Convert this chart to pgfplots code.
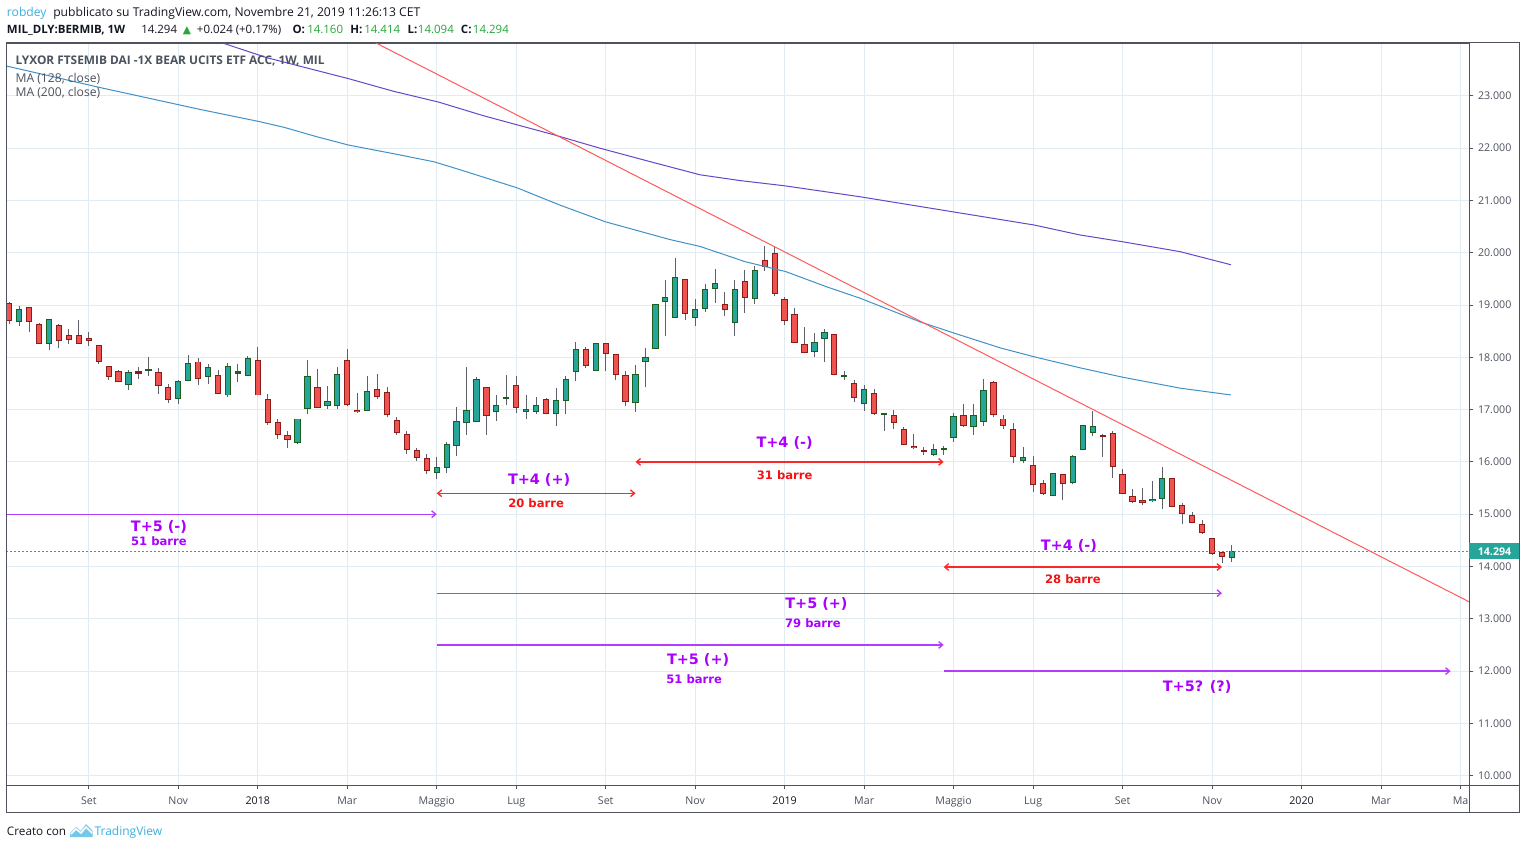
\documentclass[border=0pt]{standalone}
\usepackage{pgfplots}
\pgfplotsset{compat=1.18}
\usepackage{pgfplotstable}
\usepackage{fontspec}
\setmainfont{Open Sans}
\newfontfamily\dejavu{DejaVu Sans}
\usetikzlibrary{arrows.meta}

\definecolor{tvred}{RGB}{239,83,80}
\definecolor{tvredb}{RGB}{142,27,23}
\definecolor{tvgreen}{RGB}{38,166,154}
\definecolor{tvgreenb}{RGB}{27,94,32}
\definecolor{wick}{RGB}{93,96,107}
\definecolor{ma128}{RGB}{64,145,200}
\definecolor{ma200}{RGB}{103,70,200}
\definecolor{trend}{RGB}{255,90,90}
\definecolor{annpurple}{RGB}{170,0,255}
\definecolor{arrpurple}{RGB}{180,60,255}
\definecolor{annred}{RGB}{242,20,20}
\definecolor{arrred}{RGB}{250,40,40}
\definecolor{gridc}{RGB}{225,236,242}
\definecolor{framec}{RGB}{80,83,94}
\definecolor{labc}{RGB}{76,82,94}
\definecolor{hdrgreen}{RGB}{40,165,60}
\definecolor{tvblue}{RGB}{59,176,226}
\definecolor{txt}{RGB}{19,23,34}

\pgfplotstableread{
x o h l c
0 19.03 19.05 18.64 18.70
2 18.96 18.96 18.49 18.68
3 18.63 18.65 18.25 18.25
5 18.61 18.64 18.18 18.32
6 18.42 18.54 18.26 18.34
7 18.42 18.71 18.25 18.25
8 18.36 18.48 18.22 18.32
9 18.23 18.23 17.88 17.92
10 17.83 17.84 17.57 17.63
11 17.73 17.75 17.52 17.52
13 17.72 17.81 17.59 17.69
15 17.71 17.79 17.30 17.46
16 17.44 17.49 17.13 17.19
19 17.92 17.98 17.47 17.58
21 17.67 17.76 17.29 17.29
25 17.94 18.20 17.27 17.27
26 17.21 17.30 16.71 16.75
27 16.77 16.82 16.44 16.51
28 16.51 16.60 16.27 16.41
31 17.43 17.78 17.04 17.04
34 17.94 18.16 17.06 17.08
35 17.00 17.32 16.93 16.95
37 17.39 17.68 17.20 17.25
38 17.33 17.44 16.85 16.89
39 16.81 16.85 16.52 16.56
40 16.54 16.60 16.15 16.22
41 16.22 16.26 16.01 16.08
42 16.07 16.16 15.76 15.83
48 17.44 17.44 16.52 16.87
51 17.48 17.64 16.94 17.04
54 17.21 17.23 16.91 16.91
58 18.15 18.19 17.79 17.84
60 18.27 18.27 17.73 18.07
61 18.07 18.07 17.56 17.67
62 17.67 17.73 17.06 17.14
68 19.50 19.50 18.72 18.83
72 19.02 19.25 18.79 18.91
74 19.46 19.67 18.85 19.14
76 19.87 20.13 19.66 19.73
77 20.00 20.11 19.18 19.21
78 19.12 19.16 18.62 18.70
79 18.83 18.95 18.28 18.28
80 18.26 18.58 18.08 18.08
83 18.45 18.45 17.66 17.66
85 17.51 17.57 17.14 17.22
87 17.32 17.40 16.89 16.92
89 16.90 17.00 16.63 16.75
90 16.62 16.66 16.33 16.33
91 16.31 16.54 16.24 16.27
92 16.20 16.29 16.14 16.18
96 16.89 17.11 16.66 16.69
99 17.52 17.55 16.85 16.90
100 16.83 16.90 16.62 16.68
101 16.62 16.75 15.98 16.10
103 15.95 16.12 15.43 15.55
104 15.59 15.66 15.36 15.39
106 15.76 15.76 15.27 15.57
110 16.49 16.54 16.10 16.47
111 16.56 16.60 15.70 15.90
112 15.76 15.86 15.38 15.38
113 15.34 15.48 15.21 15.23
114 15.27 15.50 15.17 15.21
117 15.69 15.70 15.13 15.13
118 15.17 15.21 14.81 15.00
119 14.98 15.04 14.83 14.83
120 14.81 14.89 14.62 14.64
121 14.54 14.54 14.22 14.24
122 14.28 14.28 14.07 14.18
}\redtab

\pgfplotstableread{
x o h l c
1 18.67 18.98 18.60 18.92
4 18.25 18.74 18.14 18.73
12 17.48 17.75 17.38 17.71
14 17.73 18.00 17.65 17.75
17 17.21 17.56 17.11 17.54
18 17.54 18.04 17.54 17.90
20 17.63 17.87 17.49 17.81
22 17.27 17.90 17.25 17.83
23 17.69 17.87 17.53 17.71
24 17.64 18.03 17.64 17.98
29 16.37 16.83 16.35 16.83
30 17.02 17.95 16.91 17.64
32 17.06 17.45 17.02 17.16
33 17.06 17.81 17.02 17.69
36 16.97 17.64 16.97 17.35
43 15.78 16.09 15.67 15.91
44 15.89 16.39 15.78 16.35
45 16.31 17.05 16.12 16.79
46 16.75 17.81 16.52 17.00
47 16.77 17.63 16.77 17.58
49 16.96 17.28 16.79 17.08
50 17.21 17.66 17.08 17.24
52 16.96 17.28 16.82 17.02
53 16.96 17.24 16.92 17.08
55 16.91 17.41 16.69 17.19
56 17.17 17.65 16.92 17.58
57 17.71 18.29 17.54 18.15
59 17.73 18.27 17.73 18.27
63 17.12 17.86 16.96 17.69
64 17.91 18.17 17.43 18.01
65 18.16 19.02 18.16 19.02
66 19.06 19.48 18.40 19.16
67 18.75 19.89 18.75 19.54
69 18.75 19.12 18.60 18.93
70 18.93 19.41 18.87 19.31
71 19.31 19.69 19.04 19.43
73 18.66 19.48 18.40 19.31
75 19.12 19.75 19.02 19.67
81 18.10 18.47 18.01 18.30
82 18.35 18.54 17.91 18.49
84 17.62 17.74 17.57 17.63
86 17.10 17.48 16.98 17.40
88 16.89 16.90 16.60 16.90
93 16.14 16.35 16.12 16.25
94 16.22 16.31 16.14 16.24
95 16.46 16.94 16.39 16.87
97 16.66 17.11 16.52 16.90
98 16.77 17.59 16.69 17.38
102 16.01 16.29 15.97 16.10
105 15.34 15.78 15.34 15.78
107 15.59 16.14 15.57 16.12
108 16.22 16.70 16.22 16.70
109 16.56 16.98 16.49 16.68
115 15.25 15.63 15.23 15.29
116 15.29 15.90 15.10 15.69
123 14.16 14.414 14.094 14.294
}\greentab

\pgfplotsset{
  candle/.style={only marks, mark=*, mark size=0pt, mark options={draw=none, fill=none}, forget plot,
    error bars/.cd, y dir=plus, y explicit, error mark=none},
}

\begin{document}
\begin{tikzpicture}
\useasboundingbox (0,0) rectangle (1144.5pt,636.75pt);
\fill[white] (0,0) rectangle (1144.5pt,636.75pt);
\begin{axis}[
  at={(4.725pt,47.775pt)}, anchor=south west, scale only axis,
  width=1097.25pt, height=556.7pt,
  xmin=-0.3, xmax=146.88, ymin=9.816, ymax=24.01,
  axis line style={draw=framec, line width=0.75pt},
  grid=major, major grid style={draw=gridc, line width=0.75pt},
  xtick={8,17,25,34,43,51,60,69,78,86,95,103,112,121,130,138,146},
  xticklabels={Set,Nov,\textcolor{txt}{2018},Mar,Maggio,Lug,Set,Nov,\textcolor{txt}{2019},Mar,Maggio,Lug,Set,Nov,\textcolor{txt}{2020},Mar,Ma},
  ytick={10,11,...,23},
  xtick pos=left, ytick pos=right, yticklabel pos=right,
  tick align=outside, major tick length=3pt,
  tick style={draw=framec, line width=0.75pt},
  ticklabel style={font=\fontsize{8}{9}\selectfont, text=labc},
  xticklabel style={yshift=-2.2pt},
  scaled y ticks=false,
  yticklabel style={anchor=west, /pgf/number format/.cd, fixed, fixed zerofill, precision=3, assume math mode=true},
]
% wicks
\addplot[candle, error bar style={draw=wick, line width=0.75pt}]
  table[x=x, y=l, y error plus expr=\thisrow{h}-\thisrow{l}] {\redtab};
\addplot[candle, error bar style={draw=wick, line width=0.75pt}]
  table[x=x, y=l, y error plus expr=\thisrow{h}-\thisrow{l}] {\greentab};
% body outlines
\addplot[candle, error bar style={draw=tvredb, line width=4.7pt}]
  table[x=x, y=c, y error plus expr={max(\thisrow{o}-\thisrow{c},0.04)}] {\redtab};
\addplot[candle, error bar style={draw=tvgreenb, line width=4.7pt}]
  table[x=x, y=o, y error plus expr={max(\thisrow{c}-\thisrow{o},0.04)}] {\greentab};
% body fills
\addplot[candle, error bar style={draw=tvred, line width=3.2pt}]
  table[x=x, y expr=\thisrow{c}+0.019, y error plus expr={max(\thisrow{o}-\thisrow{c}-0.038,0)}] {\redtab};
\addplot[candle, error bar style={draw=tvgreen, line width=3.2pt}]
  table[x=x, y expr=\thisrow{o}+0.019, y error plus expr={max(\thisrow{c}-\thisrow{o}-0.038,0)}] {\greentab};

% moving averages
\addplot[ma200, line width=0.75pt] coordinates {
(20,24.10) (21.47,24.01) (25.9,23.73) (30,23.53) (34.1,23.33) (38.6,23.09) (43.2,22.88)
(47.7,22.62) (51.0,22.45) (54.7,22.26) (59.4,22.00) (64.5,21.74) (69.5,21.49) (73.5,21.38) (78.0,21.28)
(85.6,21.07) (95.0,20.78) (103.1,20.53) (107.7,20.34) (112.0,20.21) (117.8,20.02) (122.9,19.77)};
\addplot[ma128, line width=0.75pt] coordinates {
(-0.5,23.58) (9.1,23.16) (19.2,22.74) (25.1,22.51) (27.6,22.40) (30.9,22.22) (34.1,22.06)
(39.3,21.87) (42.7,21.74) (45.3,21.59) (51.1,21.24) (55.4,20.91) (60.0,20.59) (66.5,20.25)
(69.5,20.12) (74.0,19.83) (78.1,19.64) (82.2,19.35) (85.6,19.13) (91.6,18.68) (95.1,18.46)
(99.7,18.18) (103.1,18.01) (107.7,17.80) (112.0,17.62) (117.8,17.41) (122.9,17.28)};
% trend line
\addplot[trend, line width=0.75pt] coordinates {(30,24.68) (150,13.02)};
% last price line
\addplot[tvgreen, line width=0.75pt, dash pattern=on 1.5pt off 1.5pt] coordinates {(-0.3,14.294) (146.88,14.294)};

% annotation arrows
\tikzset{barb/.tip={Straight Barb[length=3pt,width=5pt]}}
\addplot[draw=arrpurple, line width=1pt, -barb] coordinates {(-0.3,15.00) (43,15.00)};
\addplot[draw=arrred, line width=1pt, barb-barb] coordinates {(43,15.40) (63,15.40)};
\addplot[draw=arrred, line width=1pt, barb-barb] coordinates {(63,16.00) (94,16.00)};
\addplot[draw=arrred, line width=1pt, barb-barb] coordinates {(94,13.99) (122,13.99)};
\addplot[draw=arrpurple, line width=1pt, -barb] coordinates {(43,13.49) (122,13.49)};
\addplot[draw=arrpurple, line width=1pt, -barb] coordinates {(43,12.50) (94,12.50)};
\addplot[draw=arrpurple, line width=1pt, -barb] coordinates {(94,12.00) (145,12.00)};

% annotation texts
\tikzset{tl/.style={text=annpurple, font=\dejavu\bfseries\fontsize{10.8}{12}\selectfont, inner sep=0pt},
         bl/.style={font=\dejavu\bfseries\fontsize{8.7}{10}\selectfont, inner sep=0pt}}
\node[tl] at (axis cs:15.06,14.755) {T+5 (-)};
\node[bl, text=annpurple] at (axis cs:15.06,14.49) {51 barre};
\node[tl] at (axis cs:53.3,15.65) {T+4 (+)};
\node[bl, text=annred] at (axis cs:53.0,15.21) {20 barre};
\node[tl] at (axis cs:78.0,16.36) {T+4 (-)};
\node[bl, text=annred] at (axis cs:78.0,15.75) {31 barre};
\node[tl] at (axis cs:106.6,14.39) {T+4 (-)};
\node[bl, text=annred] at (axis cs:107.0,13.76) {28 barre};
\node[tl] at (axis cs:81.2,13.28) {T+5 (+)};
\node[bl, text=annpurple] at (axis cs:80.85,12.92) {79 barre};
\node[tl] at (axis cs:69.3,12.21) {T+5 (+)};
\node[bl, text=annpurple] at (axis cs:68.9,11.85) {51 barre};
\node[tl] at (axis cs:119.5,11.70) {T+5? (?)};
\end{axis}

\begin{scope}[x=0.75pt,y=0.75pt]
% frame
\draw[framec, line width=0.75pt] (6.3,806) -- (1519.3,806) -- (1519.3,36.7) -- (6.3,36.7) -- cycle;
\draw[framec, line width=0.75pt] (1469.3,806) -- (1469.3,36.7);
\draw[framec, line width=0.75pt] (6.3,63.7) -- (1519.3,63.7);
% last price box
\fill[tvgreen] (1469.3,289.7) rectangle (1519.3,305.7);
\node[text=white, font=\bfseries\fontsize{8}{9}\selectfont, inner sep=0pt] at (1494.5,297.7) {14.294};
% header
\tikzset{hd/.style={anchor=base west, inner sep=0pt, font=\fontsize{9.1}{10}\selectfont, text=txt}}
\node[hd, text=tvblue] at (6.7,832.3) {robdey};
\node[hd] at (53,832.3) {pubblicato su TradingView.com, Novembre 21, 2019 11:26:13 CET};
\tikzset{hd2/.style={anchor=base west, inner sep=0pt, font=\fontsize{8.6}{10}\selectfont, text=txt}}
\node[hd2, font=\bfseries\fontsize{8.6}{10}\selectfont] at (6.7,815) {MIL\_DLY:BERMIB, 1W};
\node[hd2] at (141,815) {14.294};
\node[hd2, text=hdrgreen, font=\dejavu\fontsize{8}{10}\selectfont] at (182.7,815) {▲};
\node[hd2] at (196.7,815) {+0.024 (+0.17\%)};
\node[hd2, font=\bfseries\fontsize{8.6}{10}\selectfont] at (292.3,815) {O:};
\node[hd2, text=hdrgreen] at (307,815) {14.160};
\node[hd2, font=\bfseries\fontsize{8.6}{10}\selectfont] at (350,815) {H:};
\node[hd2, text=hdrgreen] at (364,815) {14.414};
\node[hd2, font=\bfseries\fontsize{8.6}{10}\selectfont] at (407.3,815) {L:};
\node[hd2, text=hdrgreen] at (417.7,815) {14.094};
\node[hd2, font=\bfseries\fontsize{8.6}{10}\selectfont] at (460.7,815) {C:};
\node[hd2, text=hdrgreen] at (472.7,815) {14.294};
% legend
\node[anchor=base west, inner sep=0pt, text=labc, font=\bfseries\fontsize{8.9}{10}\selectfont] at (15.3,784) {LYXOR FTSEMIB DAI -1X BEAR UCITS ETF ACC, 1W, MIL};
\node[anchor=base west, inner sep=0pt, text=labc, font=\fontsize{9.1}{10}\selectfont] at (15.3,766.7) {MA (128, close)};
\node[anchor=base west, inner sep=0pt, text=labc, font=\fontsize{9.1}{10}\selectfont] at (15.3,752.3) {MA (200, close)};
% footer
\node[anchor=base west, inner sep=0pt, text=txt, font=\fontsize{8.8}{10}\selectfont] at (6.7,13.3) {Creato con};
\fill[tvblue!70] (70,12) -- (70,16) -- (76,22) -- (81,18) -- (86,25) -- (92.7,18) -- (92.7,12) -- cycle;
\draw[white, line width=1.2pt] (71,15) -- (76,20) -- (81,16) -- (86,22) -- (92,16);
\node[anchor=base west, inner sep=0pt, text=tvblue, font=\fontsize{9}{10}\selectfont] at (94.3,13.3) {TradingView};
\end{scope}
\end{tikzpicture}
\end{document}
